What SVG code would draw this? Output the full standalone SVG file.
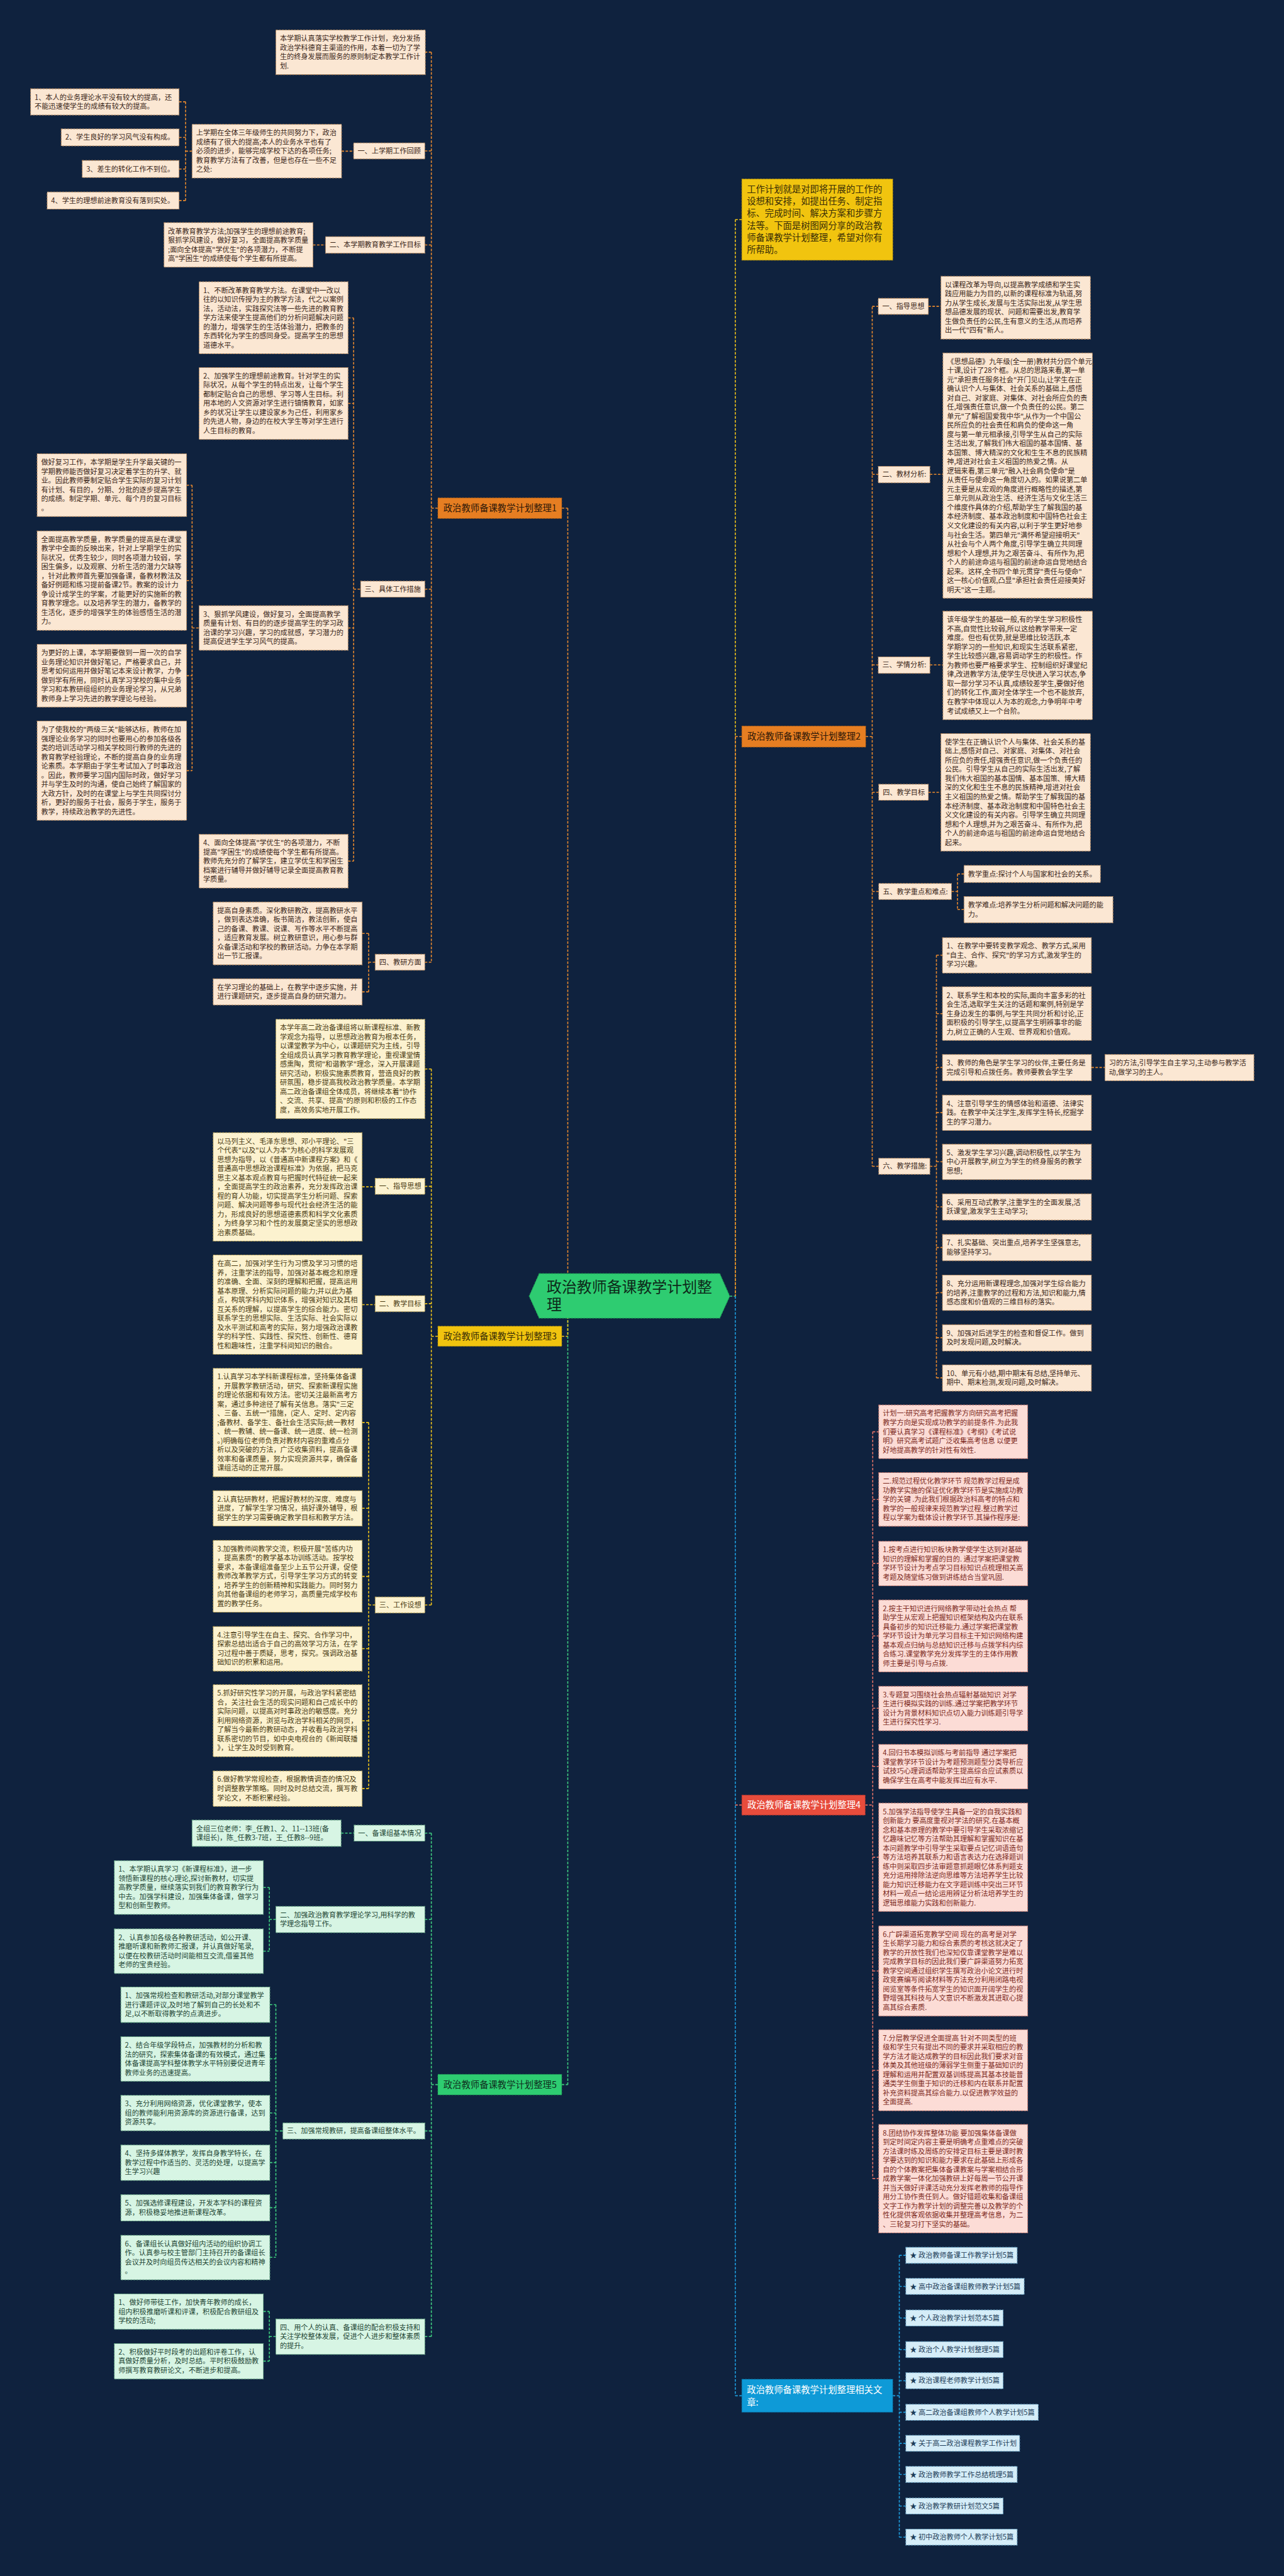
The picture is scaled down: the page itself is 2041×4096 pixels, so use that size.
<svg xmlns="http://www.w3.org/2000/svg" width="2041" height="4096" viewBox="0 0 2041 4096">
<style>
.bg{fill:#0f223e}
text{font-family:"Noto Sans CJK SC","Noto Sans",sans-serif}
.t{font-size:14px}
.r1,.r3,.r4,.r5,.r6{stroke-width:1.3;stroke-dasharray:4 2}
.r1{fill:#fbe7d3;stroke:#b98a5e}
.r3{fill:#fcf2cf;stroke:#b8a050}
.r4{fill:#fcdcd6;stroke:#c07068}
.r5{fill:#d7f5e4;stroke:#6aae88}
.r6{fill:#d5edf8;stroke:#6aa6c8}
.k1{fill:#3a2618}.k3{fill:#4a3b12}.k4{fill:#7c2a22}.k5{fill:#1e4634}.k6{fill:#1d3d58}
.c{fill:none;stroke-width:2;stroke-dasharray:5 3}
.co{stroke:#e8892e}.cy{stroke:#f0c419}.cr{stroke:#e07065}.cg{stroke:#3fcf80}.cb{stroke:#1e9fe0}
.big{font-size:18px}
</style>
<rect class="bg" x="0" y="0" width="2041" height="4096"/>
<g transform="scale(0.79727)">
<g id="connectors">
<!-- left main spine -->
<path class="c co" d="M1132 1013.5V2585M1120 1013.5H1132"/>
<path class="c cg" d="M1132 2585V4157.5M1120 4157.5H1132"/>
<path class="c cy" d="M1132 2585V2665M1120 2665H1132"/>
<!-- right main spine -->
<path class="c cy" d="M1466 438V2585M1466 438H1479"/>
<path class="c co" d="M1466 1469V2585M1466 1469H1479"/>
<path class="c cb" d="M1466 2585V4778M1466 4778H1479"/>
<path class="c cr" d="M1466 3600H1479"/>
<path class="c cg" d="M1455 2585H1466"/>
<!-- branch 1 -->
<path class="c co" d="M860 104V1919M860 1013.5H873M847 104H860M847 301H860M847 488.5H860M847 1175H860M847 1919H860"/>
<path class="c co" d="M681 301.5H705M370 203V400M357 203H370M357 274H370M357 337H370M357 400H370M370 301.5H383"/>
<path class="c co" d="M624 488.5H649"/>
<path class="c co" d="M705 634V1717.5M694 634H705M694 804.7H705M694 1252.4H705M694 1717.5H705M705 1175H719"/>
<path class="c co" d="M383 967.6V1537M372 967.6H383M372 1158H383M372 1347.6H383M372 1537H383M383 1252.4H397"/>
<path class="c co" d="M735 1861.6V1978.2M722 1861.6H735M722 1978.2H735M735 1919H748"/>
<!-- branch 3 -->
<path class="c cy" d="M860 2132V3201M860 2665H873M847 2132H860M847 2366H860M847 2600H860M847 3201H860"/>
<path class="c cy" d="M722 2367H748M722 2602H748"/>
<path class="c cy" d="M735 2837V3567M722 2837H735M722 3008H735M722 3144H735M722 3288H735M722 3432H735M722 3567H735M735 3201H748"/>
<!-- branch 5 -->
<path class="c cg" d="M860 3656V4660M860 4157.5H873M847 3656H860M847 3828H860M847 4250H860M847 4660H860"/>
<path class="c cg" d="M680 3656H706"/>
<path class="c cg" d="M537 3764.5V3891.4M525 3764.5H537M525 3891.4H537M537 3828H550"/>
<path class="c cg" d="M550 3998V4502M538 3998H550M538 4106H550M538 4214H550M538 4313H550M538 4403H550M538 4502H550M550 4250H564"/>
<path class="c cg" d="M537 4610V4709M525 4610H537M525 4709H537M537 4660H550"/>
<!-- branch 2 -->
<path class="c co" d="M1739 612V2326M1726 1469H1739M1739 611H1751M1739 946H1751M1739 1326H1751M1739 1580H1752M1739 1778H1752M1739 2326H1752"/>
<path class="c co" d="M1851 611H1876M1854 946H1880M1854 1326H1880M1851 1580H1876"/>
<path class="c co" d="M1909 1743V1814M1897 1778H1909M1909 1743H1922M1909 1814H1922"/>
<path class="c co" d="M1867 1905V2748M1854 2326H1867M1867 1905H1879M1867 2021.5H1879M1867 2129H1879M1867 2219H1879M1867 2317H1879M1867 2407H1879M1867 2488H1879M1867 2578H1879M1867 2668H1879M1867 2748H1879M2176 2129H2203"/>
<!-- branch 4 -->
<path class="c cr" d="M1740 2855.5V4345M1725 3600H1740M1740 2855.5H1752M1740 2990.5H1752M1740 3118H1752M1740 3262.7H1752M1740 3407H1752M1740 3523H1752M1740 3704H1752M1740 3931H1752M1740 4129H1752M1740 4345H1752"/>
<!-- related -->
<path class="c cb" d="M1793 4498V5060M1780 4778H1793M1793 4498H1806M1793 4560H1806M1793 4623H1806M1793 4686H1806M1793 4748H1806M1793 4811H1806M1793 4873H1806M1793 4935H1806M1793 4998H1806M1793 5060H1806"/>
</g>

<!-- center -->
<g id="center">
<polygon points="1075,2540 1435,2540 1455,2585 1435,2629 1075,2629 1055,2585" fill="#2ecc71" stroke="#1f9e55" stroke-width="1.5" stroke-dasharray="4 2"/>
<text x="1090" y="2577" font-size="30" fill="#0d2a1a"><tspan>政治教师备课教学计划整</tspan><tspan x="1090" dy="36">理</tspan></text>
</g>

<!-- ===== Branch 1 ===== -->
<g id="b1">
<rect x="873" y="993" width="247" height="41" fill="#e67e22" stroke="#b35f12" stroke-dasharray="4 2"/>
<text class="big" x="884" y="1020" fill="#2e1808">政治教师备课教学计划整理1</text>
</g>
<g id="b1-intro"><rect class="r1" x="550" y="60" width="298" height="88.8"/>
<text class="t k1" x="558" y="82"><tspan>本学期认真落实学校教学工作计划，充分发扬</tspan><tspan x="558" dy="18.2">政治学科德育主渠道的作用，本着一切为了学</tspan><tspan x="558" dy="18.2">生的终身发展而服务的原则制定本教学工作计</tspan><tspan x="558" dy="18.2">划.</tspan></text></g>
<g id="b1-1"><rect class="r1" x="705" y="285" width="142" height="32"/><text class="t k1" x="713" y="306">一、上学期工作回顾</text></g>
<g id="b1-1a"><rect class="r1" x="383" y="248" width="298" height="107"/>
<text class="t k1" x="391" y="270"><tspan>上学期在全体三年级师生的共同努力下，政治</tspan><tspan x="391" dy="18.2">成绩有了很大的提高;本人的业务水平也有了</tspan><tspan x="391" dy="18.2">必须的进步，能够完成学校下达的各项任务;</tspan><tspan x="391" dy="18.2">教育教学方法有了改善，但是也存在一些不足</tspan><tspan x="391" dy="18.2">之处:</tspan></text></g>
<g id="b1-1a1"><rect class="r1" x="61" y="177" width="296" height="52.4"/>
<text class="t k1" x="69" y="199"><tspan>1、本人的业务理论水平没有较大的提高，还</tspan><tspan x="69" dy="18.2">不能迅速使学生的成绩有较大的提高。</tspan></text></g>
<g id="b1-1a2"><rect class="r1" x="122" y="257" width="235" height="34"/><text class="t k1" x="130" y="279">2、学生良好的学习风气没有构成。</text></g>
<g id="b1-1a3"><rect class="r1" x="164" y="320" width="193" height="34"/><text class="t k1" x="172" y="342">3、差生的转化工作不到位。</text></g>
<g id="b1-1a4"><rect class="r1" x="94" y="383" width="263" height="34"/><text class="t k1" x="102" y="405">4、学生的理想前途教育没有落到实处。</text></g>
<g id="b1-2"><rect class="r1" x="649" y="472" width="198" height="33"/><text class="t k1" x="657" y="493">二、本学期教育教学工作目标</text></g>
<g id="b1-2a"><rect class="r1" x="327" y="444" width="297" height="88.8"/>
<text class="t k1" x="335" y="466"><tspan>改革教育教学方法;加强学生的理想前途教育;</tspan><tspan x="335" dy="18.2">狠抓学风建设，做好复习，全面提高教学质量</tspan><tspan x="335" dy="18.2">;面向全体提高"学优生"的各项潜力，不断提</tspan><tspan x="335" dy="18.2">高"学困生"的成绩使每个学生都有所提高。</tspan></text></g>
<g id="b1-3"><rect class="r1" x="719" y="1159" width="128" height="32"/><text class="t k1" x="727" y="1180">三、具体工作措施</text></g>
<g id="b1-3a"><rect class="r1" x="397" y="562" width="297" height="143.4"/>
<text class="t k1" x="405" y="584"><tspan>1、不断改革教育教学方法。在课堂中一改以</tspan><tspan x="405" dy="18.2">往的以知识传授为主的教学方法，代之以案例</tspan><tspan x="405" dy="18.2">法，活动法，实践探究法等一些先进的教育教</tspan><tspan x="405" dy="18.2">学方法来使学生提高他们的分析问题解决问题</tspan><tspan x="405" dy="18.2">的潜力，增强学生的生活体验潜力，把教条的</tspan><tspan x="405" dy="18.2">东西转化为学生的感同身受。提高学生的思想</tspan><tspan x="405" dy="18.2">道德水平。</tspan></text></g>
<g id="b1-3b"><rect class="r1" x="397" y="733" width="297" height="143.4"/>
<text class="t k1" x="405" y="755"><tspan>2、加强学生的理想前途教育。针对学生的实</tspan><tspan x="405" dy="18.2">际状况，从每个学生的特点出发，让每个学生</tspan><tspan x="405" dy="18.2">都制定贴合自己的思想、学习等人生目标。利</tspan><tspan x="405" dy="18.2">用本地的人文资源对学生进行镇情教育，如家</tspan><tspan x="405" dy="18.2">乡的状况让学生以建设家乡为己任，利用家乡</tspan><tspan x="405" dy="18.2">的先进人物，身边的在校大学生等对学生进行</tspan><tspan x="405" dy="18.2">人生目标的教育。</tspan></text></g>
<g id="b1-3c"><rect class="r1" x="397" y="1208" width="297" height="88.8"/>
<text class="t k1" x="405" y="1230"><tspan>3、狠抓学风建设，做好复习，全面提高教学</tspan><tspan x="405" dy="18.2">质量有计划、有目的的逐步提高学生的学习政</tspan><tspan x="405" dy="18.2">治课的学习兴趣，学习的成就感，学习潜力的</tspan><tspan x="405" dy="18.2">提高促进学生学习风气的提高。</tspan></text></g>
<g id="b1-3c1"><rect class="r1" x="74" y="905" width="298" height="125.2"/>
<text class="t k1" x="82" y="927"><tspan>做好复习工作，本学期是学生升学最关键的一</tspan><tspan x="82" dy="18.2">学期教师能否做好复习决定着学生的升学、就</tspan><tspan x="82" dy="18.2">业。因此教师要制定贴合学生实际的复习计划</tspan><tspan x="82" dy="18.2">有计划、有目的，分期、分批的逐步提高学生</tspan><tspan x="82" dy="18.2">的成绩。制定学期、单元、每个月的复习目标</tspan><tspan x="82" dy="18.2">。</tspan></text></g>
<g id="b1-3c2"><rect class="r1" x="74" y="1059" width="298" height="198"/>
<text class="t k1" x="82" y="1081"><tspan>全面提高教学质量，教学质量的提高是在课堂</tspan><tspan x="82" dy="18.2">教学中全面的反映出来，针对上学期学生的实</tspan><tspan x="82" dy="18.2">际状况，优秀生较少，同时各项潜力较弱，学</tspan><tspan x="82" dy="18.2">困生偏多，以及观察、分析生活的潜力欠缺等</tspan><tspan x="82" dy="18.2">，针对此教师首先要加强备课，备教材教法及</tspan><tspan x="82" dy="18.2">备好例题和练习提前备课2节。教案的设计力</tspan><tspan x="82" dy="18.2">争设计成学生的学案，才能更好的实施新的教</tspan><tspan x="82" dy="18.2">育教学理念。以及培养学生的潜力，备教学的</tspan><tspan x="82" dy="18.2">生活化，逐步的增强学生的体验感悟生活的潜</tspan><tspan x="82" dy="18.2">力。</tspan></text></g>
<g id="b1-3c3"><rect class="r1" x="74" y="1285" width="298" height="125.2"/>
<text class="t k1" x="82" y="1307"><tspan>为更好的上课，本学期要做到一周一次的自学</tspan><tspan x="82" dy="18.2">业务理论知识并做好笔记，严格要求自己，并</tspan><tspan x="82" dy="18.2">思考如何运用并做好笔记本来设计教学，力争</tspan><tspan x="82" dy="18.2">做到学有所用，同时认真学习学校的集中业务</tspan><tspan x="82" dy="18.2">学习和本教研组组织的业务理论学习，从兄弟</tspan><tspan x="82" dy="18.2">教师身上学习先进的教学理论与经验。</tspan></text></g>
<g id="b1-3c4"><rect class="r1" x="74" y="1438" width="298" height="198"/>
<text class="t k1" x="82" y="1460"><tspan>为了使我校的"两级三关"能够达标，教师在加</tspan><tspan x="82" dy="18.2">强理论业务学习的同时也要用心的参加各级各</tspan><tspan x="82" dy="18.2">类的培训活动学习相关学校同行教师的先进的</tspan><tspan x="82" dy="18.2">教育教学经验理论，不断的提高自身的业务理</tspan><tspan x="82" dy="18.2">论素质。本学期由于学生考试加入了时事政治</tspan><tspan x="82" dy="18.2">。因此，教师要学习国内国际时政，做好学习</tspan><tspan x="82" dy="18.2">并与学生及时的沟通，使自己始终了解国家的</tspan><tspan x="82" dy="18.2">大政方针，及时的在课堂上与学生共同探讨分</tspan><tspan x="82" dy="18.2">析，更好的服务于社会，服务于学生，服务于</tspan><tspan x="82" dy="18.2">教学，持续政治教学的先进性。</tspan></text></g>
<g id="b1-3d"><rect class="r1" x="397" y="1664" width="297" height="107"/>
<text class="t k1" x="405" y="1686"><tspan>4、面向全体提高"学优生"的各项潜力，不断</tspan><tspan x="405" dy="18.2">提高"学困生"的成绩使每个学生都有所提高。</tspan><tspan x="405" dy="18.2">教师先充分的了解学生，建立学优生和学困生</tspan><tspan x="405" dy="18.2">档案进行辅导并做好辅导记录全面提高教育教</tspan><tspan x="405" dy="18.2">学质量。</tspan></text></g>
<g id="b1-4"><rect class="r1" x="748" y="1903" width="99" height="32"/><text class="t k1" x="756" y="1924">四、教研方面</text></g>
<g id="b1-4a"><rect class="r1" x="425" y="1799" width="297" height="125.2"/>
<text class="t k1" x="433" y="1821"><tspan>提高自身素质。深化教研教改，提高教研水平</tspan><tspan x="433" dy="18.2">，做到表达准确，板书简洁，教法创新，使自</tspan><tspan x="433" dy="18.2">己的备课、教课、说课、写作等水平不断提高</tspan><tspan x="433" dy="18.2">，适应教育发展。树立教研意识，用心参与群</tspan><tspan x="433" dy="18.2">众备课活动和学校的教研活动。力争在本学期</tspan><tspan x="433" dy="18.2">出一节汇报课。</tspan></text></g>
<g id="b1-4b"><rect class="r1" x="425" y="1952" width="297" height="52.4"/>
<text class="t k1" x="433" y="1974"><tspan>在学习理论的基础上，在教学中逐步实施，并</tspan><tspan x="433" dy="18.2">进行课题研究，逐步提高自身的研究潜力。</tspan></text></g>

<!-- ===== Branch 3 ===== -->
<g id="b3">
<rect x="873" y="2645" width="247" height="40" fill="#f1c40f" stroke="#b8930a" stroke-dasharray="4 2"/>
<text class="big" x="884" y="2671" fill="#3a2e06">政治教师备课教学计划整理3</text>
</g>
<g id="b3-intro"><rect class="r3" x="550" y="2033" width="297" height="198"/>
<text class="t k3" x="558" y="2055"><tspan>本学年高二政治备课组将以新课程标准、新教</tspan><tspan x="558" dy="18.2">学观念为指导，以思想政治教育为根本任务，</tspan><tspan x="558" dy="18.2">以课堂教学为中心，以课题研究为主线，引导</tspan><tspan x="558" dy="18.2">全组成员认真学习教育教学理论，重视课堂情</tspan><tspan x="558" dy="18.2">感熏陶，贯彻"和谐教学"理念，深入开展课题</tspan><tspan x="558" dy="18.2">研究活动，积极实施素质教育，营造良好的教</tspan><tspan x="558" dy="18.2">研氛围，稳步提高我校政治教学质量。本学期</tspan><tspan x="558" dy="18.2">高二政治备课组全体成员，将继续本着"协作</tspan><tspan x="558" dy="18.2">、交流、共享、提高"的原则和积极的工作态</tspan><tspan x="558" dy="18.2">度，高效务实地开展工作。</tspan></text></g>
<g id="b3-1"><rect class="r3" x="748" y="2350" width="99" height="32"/><text class="t k3" x="756" y="2371">一、指导思想</text></g>
<g id="b3-1a"><rect class="r3" x="425" y="2259" width="297" height="216.2"/>
<text class="t k3" x="433" y="2281"><tspan>以马列主义、毛泽东思想、邓小平理论、"三</tspan><tspan x="433" dy="18.2">个代表"以及"以人为本"为核心的科学发展观</tspan><tspan x="433" dy="18.2">思想为指导，以《普通高中新课程方案》和《</tspan><tspan x="433" dy="18.2">普通高中思想政治课程标准》为依据，把马克</tspan><tspan x="433" dy="18.2">思主义基本观点教育与把握时代特征统一起来</tspan><tspan x="433" dy="18.2">，全面提高学生的政治素养，充分发挥政治课</tspan><tspan x="433" dy="18.2">程的育人功能，切实提高学生分析问题、探索</tspan><tspan x="433" dy="18.2">问题、解决问题等参与现代社会经济生活的能</tspan><tspan x="433" dy="18.2">力，形成良好的思想道德素质和科学文化素质</tspan><tspan x="433" dy="18.2">，为终身学习和个性的发展奠定坚实的思想政</tspan><tspan x="433" dy="18.2">治素质基础。</tspan></text></g>
<g id="b3-2"><rect class="r3" x="748" y="2584" width="99" height="32"/><text class="t k3" x="756" y="2605">二、教学目标</text></g>
<g id="b3-2a"><rect class="r3" x="425" y="2503" width="297" height="198"/>
<text class="t k3" x="433" y="2525"><tspan>在高二，加强对学生行为习惯及学习习惯的培</tspan><tspan x="433" dy="18.2">养，注重学法的指导，加强对基本概念和原理</tspan><tspan x="433" dy="18.2">的准确、全面、深刻的理解和把握，提高运用</tspan><tspan x="433" dy="18.2">基本原理、分析实际问题的能力;并以此为基</tspan><tspan x="433" dy="18.2">点，构筑学科内知识体系，增强对知识及其相</tspan><tspan x="433" dy="18.2">互关系的理解，以提高学生的综合能力。密切</tspan><tspan x="433" dy="18.2">联系学生的思想实际、生活实际、社会实际以</tspan><tspan x="433" dy="18.2">及水平测试和高考的实际，努力增强政治课教</tspan><tspan x="433" dy="18.2">学的科学性、实践性、探究性、创新性、德育</tspan><tspan x="433" dy="18.2">性和趣味性，注重学科间知识的融合。</tspan></text></g>
<g id="b3-3"><rect class="r3" x="748" y="3185" width="99" height="32"/><text class="t k3" x="756" y="3206">三、工作设想</text></g>
<g id="b3-3a"><rect class="r3" x="425" y="2729" width="297" height="216.2"/>
<text class="t k3" x="433" y="2751"><tspan>1.认真学习本学科新课程标准，坚持集体备课</tspan><tspan x="433" dy="18.2">，开展教学教研活动，研究、探索新课程实施</tspan><tspan x="433" dy="18.2">的理论依据和有效方法。密切关注最新高考方</tspan><tspan x="433" dy="18.2">案，通过多种途径了解有关信息。落实"三定</tspan><tspan x="433" dy="18.2">、三备、五统一"措施，(定人、定时、定内容</tspan><tspan x="433" dy="18.2">;备教材、备学生、备社会生活实际;统一教材</tspan><tspan x="433" dy="18.2">、统一教辅、统一备课、统一进度、统一检测</tspan><tspan x="433" dy="18.2">。)明确每位老师负责对教材内容的重难点分</tspan><tspan x="433" dy="18.2">析以及突破的方法，广泛收集资料，提高备课</tspan><tspan x="433" dy="18.2">效率和备课质量，努力实现资源共享，确保备</tspan><tspan x="433" dy="18.2">课组活动的正常开展。</tspan></text></g>
<g id="b3-3b"><rect class="r3" x="425" y="2973" width="297" height="70.6"/>
<text class="t k3" x="433" y="2995"><tspan>2.认真钻研教材，把握好教材的深度、难度与</tspan><tspan x="433" dy="18.2">进度，了解学生学习情况，搞好课外辅导，根</tspan><tspan x="433" dy="18.2">据学生的学习需要确定教学目标和教学方法。</tspan></text></g>
<g id="b3-3c"><rect class="r3" x="425" y="3072" width="297" height="143.4"/>
<text class="t k3" x="433" y="3094"><tspan>3.加强教师间教学交流，积极开展"苦练内功</tspan><tspan x="433" dy="18.2">，提高素质"的教学基本功训练活动。按学校</tspan><tspan x="433" dy="18.2">要求，本备课组准备至少上五节公开课，促使</tspan><tspan x="433" dy="18.2">教师改革教学方式，引导学生学习方式的转变</tspan><tspan x="433" dy="18.2">，培养学生的创新精神和实践能力。同时努力</tspan><tspan x="433" dy="18.2">向其他备课组的老师学习，高质量完成学校布</tspan><tspan x="433" dy="18.2">置的教学任务。</tspan></text></g>
<g id="b3-3d"><rect class="r3" x="425" y="3244" width="297" height="88.8"/>
<text class="t k3" x="433" y="3266"><tspan>4.注意引导学生在自主、探究、合作学习中，</tspan><tspan x="433" dy="18.2">探索总结出适合于自己的高效学习方法，在学</tspan><tspan x="433" dy="18.2">习过程中善于质疑，思考，探究。强调政治基</tspan><tspan x="433" dy="18.2">础知识的积累和运用。</tspan></text></g>
<g id="b3-3e"><rect class="r3" x="425" y="3360" width="297" height="143.4"/>
<text class="t k3" x="433" y="3382"><tspan>5.抓好研究性学习的开展，与政治学科紧密结</tspan><tspan x="433" dy="18.2">合，关注社会生活的现实问题和自己成长中的</tspan><tspan x="433" dy="18.2">实际问题，以提高对时事政治的敏感度。充分</tspan><tspan x="433" dy="18.2">利用网络资源，浏览与政治学科相关的网页，</tspan><tspan x="433" dy="18.2">了解当今最新的教研动态，并收看与政治学科</tspan><tspan x="433" dy="18.2">联系密切的节目，如中央电视台的《新闻联播</tspan><tspan x="433" dy="18.2">》，让学生及时受到教育。</tspan></text></g>
<g id="b3-3f"><rect class="r3" x="425" y="3532" width="297" height="70.6"/>
<text class="t k3" x="433" y="3554"><tspan>6.做好教学常规检查，根据教情调查的情况及</tspan><tspan x="433" dy="18.2">时调整教学策略。同时及时总结交流，撰写教</tspan><tspan x="433" dy="18.2">学论文，不断积累经验。</tspan></text></g>

<!-- ===== Branch 5 ===== -->
<g id="b5">
<rect x="873" y="4137" width="247" height="41" fill="#2ecc71" stroke="#1f9e55" stroke-dasharray="4 2"/>
<text class="big" x="884" y="4164" fill="#0f3020">政治教师备课教学计划整理5</text>
</g>
<g id="b5-1"><rect class="r5" x="706" y="3640" width="141" height="32"/><text class="t k5" x="714" y="3661">一、备课组基本情况</text></g>
<g id="b5-1a"><rect class="r5" x="383" y="3630" width="297" height="52.4"/>
<text class="t k5" x="391" y="3652"><tspan>全组三位老师：李_任教1、2、11--13班(备</tspan><tspan x="391" dy="18.2">课组长)，陈_任教3-7班，王_任教8--9班。</tspan></text></g>
<g id="b5-2"><rect class="r5" x="550" y="3802" width="297" height="52.4"/>
<text class="t k5" x="558" y="3824"><tspan>二、加强政治教育教学理论学习,用科学的教</tspan><tspan x="558" dy="18.2">学理念指导工作。</tspan></text></g>
<g id="b5-2a"><rect class="r5" x="228" y="3711" width="297" height="107"/>
<text class="t k5" x="236" y="3733"><tspan>1、本学期认真学习《新课程标准》，进一步</tspan><tspan x="236" dy="18.2">领悟新课程的核心理论,探讨新教材，切实提</tspan><tspan x="236" dy="18.2">高教学质量，继续落实到我们的教育教学行为</tspan><tspan x="236" dy="18.2">中去。加强学科建设，加强集体备课，做学习</tspan><tspan x="236" dy="18.2">型和创新型教师。</tspan></text></g>
<g id="b5-2b"><rect class="r5" x="228" y="3847" width="297" height="88.8"/>
<text class="t k5" x="236" y="3869"><tspan>2、认真参加各级各种教研活动，如公开课、</tspan><tspan x="236" dy="18.2">推磨听课和新教师汇报课，并认真做好笔录,</tspan><tspan x="236" dy="18.2">以便在校教研活动时间能相互交流,借鉴其他</tspan><tspan x="236" dy="18.2">老师的宝贵经验。</tspan></text></g>
<g id="b5-3"><rect class="r5" x="564" y="4234" width="283" height="32"/><text class="t k5" x="572" y="4255">三、加强常规教研，提高备课组整体水平。</text></g>
<g id="b5-3a"><rect class="r5" x="241" y="3963" width="297" height="70.6"/>
<text class="t k5" x="249" y="3985"><tspan>1、加强常规检查和教研活动,对部分课堂教学</tspan><tspan x="249" dy="18.2">进行课题评议,及时地了解到自己的长处和不</tspan><tspan x="249" dy="18.2">足,以不断取得教学的点滴进步。</tspan></text></g>
<g id="b5-3b"><rect class="r5" x="241" y="4062" width="297" height="88.8"/>
<text class="t k5" x="249" y="4084"><tspan>2、结合年级学段特点，加强教材的分析和教</tspan><tspan x="249" dy="18.2">法的研究，探索集体备课的有效模式，通过集</tspan><tspan x="249" dy="18.2">体备课提高学科整体教学水平特别要促进青年</tspan><tspan x="249" dy="18.2">教师业务的迅速提高。</tspan></text></g>
<g id="b5-3c"><rect class="r5" x="241" y="4179" width="297" height="70.6"/>
<text class="t k5" x="249" y="4201"><tspan>3、充分利用网络资源，优化课堂教学，使本</tspan><tspan x="249" dy="18.2">组的教师能利用资源库的资源进行备课，达到</tspan><tspan x="249" dy="18.2">资源共享。</tspan></text></g>
<g id="b5-3d"><rect class="r5" x="241" y="4278" width="297" height="70.6"/>
<text class="t k5" x="249" y="4300"><tspan>4、坚持多媒体教学，发挥自身教学特长，在</tspan><tspan x="249" dy="18.2">教学过程中作适当的、灵活的处理，以提高学</tspan><tspan x="249" dy="18.2">生学习兴趣</tspan></text></g>
<g id="b5-3e"><rect class="r5" x="241" y="4377" width="297" height="52.4"/>
<text class="t k5" x="249" y="4399"><tspan>5、加强选修课程建设，开发本学科的课程资</tspan><tspan x="249" dy="18.2">源，积极稳妥地推进新课程改革。</tspan></text></g>
<g id="b5-3f"><rect class="r5" x="241" y="4458" width="297" height="88.8"/>
<text class="t k5" x="249" y="4480"><tspan>6、备课组长认真做好组内活动的组织协调工</tspan><tspan x="249" dy="18.2">作。认真参与校主管部门主持召开的备课组长</tspan><tspan x="249" dy="18.2">会议并及时向组员传达相关的会议内容和精神</tspan><tspan x="249" dy="18.2">。</tspan></text></g>
<g id="b5-4"><rect class="r5" x="550" y="4625" width="297" height="70.6"/>
<text class="t k5" x="558" y="4647"><tspan>四、用个人的认真、备课组的配合积极支持和</tspan><tspan x="558" dy="18.2">关注学校整体发展，促进个人进步和整体素质</tspan><tspan x="558" dy="18.2">的提升。</tspan></text></g>
<g id="b5-4a"><rect class="r5" x="228" y="4575" width="297" height="70.6"/>
<text class="t k5" x="236" y="4597"><tspan>1、做好师带徒工作，加快青年教师的成长，</tspan><tspan x="236" dy="18.2">组内积极推磨听课和评课，积极配合教研组及</tspan><tspan x="236" dy="18.2">学校的活动;</tspan></text></g>
<g id="b5-4b"><rect class="r5" x="228" y="4674" width="297" height="70.6"/>
<text class="t k5" x="236" y="4696"><tspan>2、积极做好平时段考的出题和评卷工作，认</tspan><tspan x="236" dy="18.2">真做好质量分析，及时总结。平时积极鼓励教</tspan><tspan x="236" dy="18.2">师撰写教育教研论文，不断进步和提高。</tspan></text></g>

<!-- ===== Right: intro ===== -->
<g id="intro"><rect x="1479" y="357" width="301" height="162" fill="#f1c40f" stroke="#b8930a" stroke-dasharray="4 2"/>
<text class="big" x="1489" y="384" fill="#3a2e06"><tspan>工作计划就是对即将开展的工作的</tspan><tspan x="1489" dy="24">设想和安排，如提出任务、制定指</tspan><tspan x="1489" dy="24">标、完成时间、解决方案和步骤方</tspan><tspan x="1489" dy="24">法等。下面是树图网分享的政治教</tspan><tspan x="1489" dy="24">师备课教学计划整理，希望对你有</tspan><tspan x="1489" dy="24">所帮助。</tspan></text></g>

<!-- ===== Branch 2 ===== -->
<g id="b2">
<rect x="1479" y="1448" width="247" height="42" fill="#e67e22" stroke="#b35f12" stroke-dasharray="4 2"/>
<text class="big" x="1490" y="1475" fill="#2e1808">政治教师备课教学计划整理2</text>
</g>
<g id="b2-1"><rect class="r1" x="1751" y="595" width="100" height="32"/><text class="t k1" x="1759" y="616">一、指导思想</text></g>
<g id="b2-1a"><rect class="r1" x="1876" y="551" width="298" height="125.2"/>
<text class="t k1" x="1884" y="573"><tspan>以课程改革为导向,以提高教学成绩和学生实</tspan><tspan x="1884" dy="18.2">践应用能力为目的,以新的课程标准为轨道,努</tspan><tspan x="1884" dy="18.2">力从学生成长,发展与生活实际出发,从学生思</tspan><tspan x="1884" dy="18.2">想品德发展的现状、问题和需要出发,教育学</tspan><tspan x="1884" dy="18.2">生做负责任的公民,生有意义的生活,从而培养</tspan><tspan x="1884" dy="18.2">出一代"四有"新人。</tspan></text></g>
<g id="b2-2"><rect class="r1" x="1751" y="930" width="103" height="33"/><text class="t k1" x="1759" y="951">二、教材分析:</text></g>
<g id="b2-2a"><rect class="r1" x="1880" y="704" width="298" height="489"/>
<text class="t k1" x="1888" y="726"><tspan>《思想品德》九年级(全一册)教材共分四个单元,</tspan><tspan x="1888" dy="18.2">十课,设计了28个框。从总的思路来看,第一单</tspan><tspan x="1888" dy="18.2">元"承担责任服务社会"开门见山,让学生在正</tspan><tspan x="1888" dy="18.2">确认识个人与集体、社会关系的基础上,感悟</tspan><tspan x="1888" dy="18.2">对自己、对家庭、对集体、对社会所应负的责</tspan><tspan x="1888" dy="18.2">任,增强责任意识,做一个负责任的公民。第二</tspan><tspan x="1888" dy="18.2">单元"了解祖国爱我中华",从作为一个中国公</tspan><tspan x="1888" dy="18.2">民所应负的社会责任和肩负的使命这一角</tspan><tspan x="1888" dy="18.2">度与第一单元相承接,引导学生从自己的实际</tspan><tspan x="1888" dy="18.2">生活出发,了解我们伟大祖国的基本国情、基</tspan><tspan x="1888" dy="18.2">本国策、博大精深的文化和生生不息的民族精</tspan><tspan x="1888" dy="18.2">神,增进对社会主义祖国的热爱之情。从</tspan><tspan x="1888" dy="18.2">逻辑来看,第三单元"融入社会肩负使命"是</tspan><tspan x="1888" dy="18.2">从责任与使命这一角度切入的。如果说第二单</tspan><tspan x="1888" dy="18.2">元主要是从宏观的角度进行概略性的描述,第</tspan><tspan x="1888" dy="18.2">三单元则从政治生活、经济生活与文化生活三</tspan><tspan x="1888" dy="18.2">个维度作具体的介绍,帮助学生了解我国的基</tspan><tspan x="1888" dy="18.2">本经济制度、基本政治制度和中国特色社会主</tspan><tspan x="1888" dy="18.2">义文化建设的有关内容,以利于学生更好地参</tspan><tspan x="1888" dy="18.2">与社会生活。第四单元"满怀希望迎接明天"</tspan><tspan x="1888" dy="18.2">从社会与个人两个角度,引导学生确立共同理</tspan><tspan x="1888" dy="18.2">想和个人理想,并为之艰苦奋斗、有所作为,把</tspan><tspan x="1888" dy="18.2">个人的前途命运与祖国的前途命运自觉地结合</tspan><tspan x="1888" dy="18.2">起来。这样,全书四个单元贯穿"责任与使命"</tspan><tspan x="1888" dy="18.2">这一核心价值观,凸显"承担社会责任迎接美好</tspan><tspan x="1888" dy="18.2">明天"这一主题。</tspan></text></g>
<g id="b2-3"><rect class="r1" x="1751" y="1310" width="103" height="33"/><text class="t k1" x="1759" y="1331">三、学情分析:</text></g>
<g id="b2-3a"><rect class="r1" x="1880" y="1219" width="298" height="216.2"/>
<text class="t k1" x="1888" y="1241"><tspan>该年级学生的基础一般,有的学生学习积极性</tspan><tspan x="1888" dy="18.2">不高,自觉性比较弱,所以这给教学带来一定</tspan><tspan x="1888" dy="18.2">难度。但也有优势,就是思维比较活跃,本</tspan><tspan x="1888" dy="18.2">学期学习的一些知识,和现实生活联系紧密,</tspan><tspan x="1888" dy="18.2">学生比较感兴趣,容易调动学生的积极性。作</tspan><tspan x="1888" dy="18.2">为教师也要严格要求学生、控制组织好课堂纪</tspan><tspan x="1888" dy="18.2">律,改进教学方法,使学生尽快进入学习状态,争</tspan><tspan x="1888" dy="18.2">取一部分学习不认真,成绩较差学生,要做好他</tspan><tspan x="1888" dy="18.2">们的转化工作,面对全体学生一个也不能放弃,</tspan><tspan x="1888" dy="18.2">在教学中体现以人为本的观念,力争明年中考</tspan><tspan x="1888" dy="18.2">考试成绩又上一个台阶。</tspan></text></g>
<g id="b2-4"><rect class="r1" x="1752" y="1564" width="99" height="32"/><text class="t k1" x="1760" y="1585">四、教学目标</text></g>
<g id="b2-4a"><rect class="r1" x="1876" y="1463" width="298" height="234.4"/>
<text class="t k1" x="1884" y="1485"><tspan>使学生在正确认识个人与集体、社会关系的基</tspan><tspan x="1884" dy="18.2">础上,感悟对自己、对家庭、对集体、对社会</tspan><tspan x="1884" dy="18.2">所应负的责任,增强责任意识,做一个负责任的</tspan><tspan x="1884" dy="18.2">公民。引导学生从自己的实际生活出发,了解</tspan><tspan x="1884" dy="18.2">我们伟大祖国的基本国情、基本国策、博大精</tspan><tspan x="1884" dy="18.2">深的文化和生生不息的民族精神,增进对社会</tspan><tspan x="1884" dy="18.2">主义祖国的热爱之情。帮助学生了解我国的基</tspan><tspan x="1884" dy="18.2">本经济制度、基本政治制度和中国特色社会主</tspan><tspan x="1884" dy="18.2">义文化建设的有关内容。引导学生确立共同理</tspan><tspan x="1884" dy="18.2">想和个人理想,并为之艰苦奋斗、有所作为,把</tspan><tspan x="1884" dy="18.2">个人的前途命运与祖国的前途命运自觉地结合</tspan><tspan x="1884" dy="18.2">起来。</tspan></text></g>
<g id="b2-5"><rect class="r1" x="1752" y="1762" width="145" height="32"/><text class="t k1" x="1760" y="1783">五、教学重点和难点:</text></g>
<g id="b2-5a"><rect class="r1" x="1922" y="1726" width="272" height="34"/><text class="t k1" x="1930" y="1748">教学重点:探讨个人与国家和社会的关系。</text></g>
<g id="b2-5b"><rect class="r1" x="1922" y="1788" width="297" height="52.4"/>
<text class="t k1" x="1930" y="1810"><tspan>教学难点:培养学生分析问题和解决问题的能</tspan><tspan x="1930" dy="18.2">力。</tspan></text></g>
<g id="b2-6"><rect class="r1" x="1752" y="2310" width="102" height="32"/><text class="t k1" x="1760" y="2331">六、教学措施:</text></g>
<g id="b2-6-1"><rect class="r1" x="1879" y="1870" width="297" height="70.6"/>
<text class="t k1" x="1887" y="1892"><tspan>1、在教学中要转变教学观念、教学方式,采用</tspan><tspan x="1887" dy="18.2">"自主、合作、探究"的学习方式,激发学生的</tspan><tspan x="1887" dy="18.2">学习兴趣。</tspan></text></g>
<g id="b2-6-2"><rect class="r1" x="1879" y="1968" width="297" height="107"/>
<text class="t k1" x="1887" y="1990"><tspan>2、联系学生和本校的实际,面向丰富多彩的社</tspan><tspan x="1887" dy="18.2">会生活,选取学生关注的话题和案例,特别是学</tspan><tspan x="1887" dy="18.2">生身边发生的事例,与学生共同分析和讨论,正</tspan><tspan x="1887" dy="18.2">面积极的引导学生,以提高学生明辨事非的能</tspan><tspan x="1887" dy="18.2">力,树立正确的人生观、世界观和价值观。</tspan></text></g>
<g id="b2-6-3"><rect class="r1" x="1879" y="2103" width="297" height="52.4"/>
<text class="t k1" x="1887" y="2125"><tspan>3、教师的角色是学生学习的伙伴,主要任务是</tspan><tspan x="1887" dy="18.2">完成引导和点拨任务。教师要教会学生学</tspan></text></g>
<g id="b2-6-3a"><rect class="r1" x="2203" y="2103" width="297" height="52.4"/>
<text class="t k1" x="2211" y="2125"><tspan>习的方法,引导学生自主学习,主动参与教学活</tspan><tspan x="2211" dy="18.2">动,做学习的主人。</tspan></text></g>
<g id="b2-6-4"><rect class="r1" x="1879" y="2184" width="297" height="70.6"/>
<text class="t k1" x="1887" y="2206"><tspan>4、注意引导学生的情感体验和道德、法律实</tspan><tspan x="1887" dy="18.2">践。在教学中关注学生,发挥学生特长,挖掘学</tspan><tspan x="1887" dy="18.2">生的学习潜力。</tspan></text></g>
<g id="b2-6-5"><rect class="r1" x="1879" y="2282" width="297" height="70.6"/>
<text class="t k1" x="1887" y="2304"><tspan>5、激发学生学习兴趣,调动积极性,以学生为</tspan><tspan x="1887" dy="18.2">中心开展教学,树立为学生的终身服务的教学</tspan><tspan x="1887" dy="18.2">思想;</tspan></text></g>
<g id="b2-6-6"><rect class="r1" x="1879" y="2381" width="297" height="52.4"/>
<text class="t k1" x="1887" y="2403"><tspan>6、采用互动式教学,注重学生的全面发展,活</tspan><tspan x="1887" dy="18.2">跃课堂,激发学生主动学习;</tspan></text></g>
<g id="b2-6-7"><rect class="r1" x="1879" y="2462" width="297" height="52.4"/>
<text class="t k1" x="1887" y="2484"><tspan>7、扎实基础、突出重点,培养学生坚强意志,</tspan><tspan x="1887" dy="18.2">能够坚持学习。</tspan></text></g>
<g id="b2-6-8"><rect class="r1" x="1879" y="2543" width="297" height="70.6"/>
<text class="t k1" x="1887" y="2565"><tspan>8、充分运用新课程理念,加强对学生综合能力</tspan><tspan x="1887" dy="18.2">的培养,注重教学的过程和方法,知识和能力,情</tspan><tspan x="1887" dy="18.2">感态度和价值观的三维目标的落实。</tspan></text></g>
<g id="b2-6-9"><rect class="r1" x="1879" y="2642" width="297" height="52.4"/>
<text class="t k1" x="1887" y="2664"><tspan>9、加强对后进学生的检查和督促工作。做到</tspan><tspan x="1887" dy="18.2">及时发现问题,及时解决。</tspan></text></g>
<g id="b2-6-10"><rect class="r1" x="1879" y="2722" width="297" height="52.4"/>
<text class="t k1" x="1887" y="2744"><tspan>10、单元有小结,期中期末有总结,坚持单元、</tspan><tspan x="1887" dy="18.2">期中、期末检测,发现问题,及时解决。</tspan></text></g>

<!-- ===== Branch 4 ===== -->
<g id="b4">
<rect x="1479" y="3580" width="246" height="40" fill="#e74c3c" stroke="#b0302a" stroke-dasharray="4 2"/>
<text class="big" x="1490" y="3606" fill="#ffffff">政治教师备课教学计划整理4</text>
</g>
<g id="b4-a"><rect class="r4" x="1752" y="2802" width="297" height="107"/>
<text class="t k4" x="1760" y="2824"><tspan>计划一:研究高考把握教学方向研究高考把握</tspan><tspan x="1760" dy="18.2">教学方向是实现成功教学的前提条件.为此我</tspan><tspan x="1760" dy="18.2">们要认真学习《课程标准》《考纲》《考试说</tspan><tspan x="1760" dy="18.2">明》研究高考试题广泛收集高考信息 以便更</tspan><tspan x="1760" dy="18.2">好地提高教学的针对性有效性.</tspan></text></g>
<g id="b4-b"><rect class="r4" x="1752" y="2937" width="297" height="107"/>
<text class="t k4" x="1760" y="2959"><tspan>二.规范过程优化教学环节 规范教学过程是成</tspan><tspan x="1760" dy="18.2">功教学实施的保证优化教学环节是实施成功教</tspan><tspan x="1760" dy="18.2">学的关键 .为此我们根据政治科高考的特点和</tspan><tspan x="1760" dy="18.2">教学的一般规律来规范教学过程.整过教学过</tspan><tspan x="1760" dy="18.2">程以学案为载体设计教学环节.其操作程序是:</tspan></text></g>
<g id="b4-1"><rect class="r4" x="1752" y="3074" width="297" height="88.8"/>
<text class="t k4" x="1760" y="3096"><tspan>1.按考点进行知识板块教学使学生达到对基础</tspan><tspan x="1760" dy="18.2">知识的理解和掌握的目的. 通过学案把课堂教</tspan><tspan x="1760" dy="18.2">学环节设计为考点学习目标知识点梳理相关高</tspan><tspan x="1760" dy="18.2">考题及随堂练习做到讲练结合当堂巩固.</tspan></text></g>
<g id="b4-2"><rect class="r4" x="1752" y="3191" width="297" height="143.4"/>
<text class="t k4" x="1760" y="3213"><tspan>2.按主干知识进行网络教学带动社会热点 帮</tspan><tspan x="1760" dy="18.2">助学生从宏观上把握知识框架结构及内在联系</tspan><tspan x="1760" dy="18.2">具备初步的知识迁移能力.通过学案把课堂教</tspan><tspan x="1760" dy="18.2">学环节设计为单元学习目标主干知识网络构建</tspan><tspan x="1760" dy="18.2">基本观点归纳与总结知识迁移与点拨学科内综</tspan><tspan x="1760" dy="18.2">合练习.课堂教学充分发挥学生的主体作用教</tspan><tspan x="1760" dy="18.2">师主要是引导与点拨.</tspan></text></g>
<g id="b4-3"><rect class="r4" x="1752" y="3363" width="297" height="88.8"/>
<text class="t k4" x="1760" y="3385"><tspan>3.专题复习围绕社会热点辐射基础知识 对学</tspan><tspan x="1760" dy="18.2">生进行模拟实践的训练.通过学案把教学环节</tspan><tspan x="1760" dy="18.2">设计为背景材料知识点切入能力训练题引导学</tspan><tspan x="1760" dy="18.2">生进行探究性学习.</tspan></text></g>
<g id="b4-4"><rect class="r4" x="1752" y="3479" width="297" height="88.8"/>
<text class="t k4" x="1760" y="3501"><tspan>4.回归书本模拟训练与考前指导 通过学案把</tspan><tspan x="1760" dy="18.2">课堂教学环节设计为考题预测题型分类导析应</tspan><tspan x="1760" dy="18.2">试技巧心理调适帮助学生提高综合应试素质以</tspan><tspan x="1760" dy="18.2">确保学生在高考中能发挥出应有水平.</tspan></text></g>
<g id="b4-5"><rect class="r4" x="1752" y="3596" width="297" height="216.2"/>
<text class="t k4" x="1760" y="3618"><tspan>5.加强学法指导使学生具备一定的自我实践和</tspan><tspan x="1760" dy="18.2">创新能力 要高度重视对学法的研究.在基本概</tspan><tspan x="1760" dy="18.2">念和基本原理的教学中要引导学生采取浓缩记</tspan><tspan x="1760" dy="18.2">忆趣味记忆等方法帮助其理解和掌握知识在基</tspan><tspan x="1760" dy="18.2">本问题教学中引导学生采取要点记忆词语造句</tspan><tspan x="1760" dy="18.2">等方法培养其联系力和语言表达力在选择题训</tspan><tspan x="1760" dy="18.2">练中则采取四步法审题意抓题眼忆体系判题支</tspan><tspan x="1760" dy="18.2">充分运用排除法逆向思维等方法培养学生比较</tspan><tspan x="1760" dy="18.2">能力知识迁移能力在文字题训练中突出三环节</tspan><tspan x="1760" dy="18.2">材料一观点一结论运用辨证分析法培养学生的</tspan><tspan x="1760" dy="18.2">逻辑思维能力实践和创新能力.</tspan></text></g>
<g id="b4-6"><rect class="r4" x="1752" y="3841" width="297" height="179.8"/>
<text class="t k4" x="1760" y="3863"><tspan>6.广辟渠道拓宽教学空间 现在的高考是对学</tspan><tspan x="1760" dy="18.2">生长期学习能力和综合素质的考核这就决定了</tspan><tspan x="1760" dy="18.2">教学的开放性我们也深知仅靠课堂教学是难以</tspan><tspan x="1760" dy="18.2">完成教学目标的因此我们要广辟渠道努力拓宽</tspan><tspan x="1760" dy="18.2">教学空间通过组织学生撰写政治小论文进行时</tspan><tspan x="1760" dy="18.2">政竞赛编写阅读材料等方法充分利用闭路电视</tspan><tspan x="1760" dy="18.2">阅览室等条件拓宽学生的知识面开阔学生的视</tspan><tspan x="1760" dy="18.2">野增强其科技与人文意识不断激发其进取心提</tspan><tspan x="1760" dy="18.2">高其综合素质.</tspan></text></g>
<g id="b4-7"><rect class="r4" x="1752" y="4048" width="297" height="161.6"/>
<text class="t k4" x="1760" y="4070"><tspan>7.分层教学促进全面提高 针对不同类型的班</tspan><tspan x="1760" dy="18.2">级和学生只有提出不同的要求并采取相应的教</tspan><tspan x="1760" dy="18.2">学方法才能达成教学的目标因此我们要求对音</tspan><tspan x="1760" dy="18.2">体美及其他班级的薄弱学生侧重于基础知识的</tspan><tspan x="1760" dy="18.2">理解和运用并配置双基训练提高其基本技能普</tspan><tspan x="1760" dy="18.2">通类学生侧重于知识的迁移和内在联系并配置</tspan><tspan x="1760" dy="18.2">补充资料提高其综合能力.以促进教学效益的</tspan><tspan x="1760" dy="18.2">全面提高.</tspan></text></g>
<g id="b4-8"><rect class="r4" x="1752" y="4237" width="297" height="216.2"/>
<text class="t k4" x="1760" y="4259"><tspan>8.团结协作发挥整体功能 要加强集体备课做</tspan><tspan x="1760" dy="18.2">到定时间定内容主要是明确考点重难点的突破</tspan><tspan x="1760" dy="18.2">方法课时练及周练的安排定目标主要是课时教</tspan><tspan x="1760" dy="18.2">学要达到的知识和能力要求在此基础上形成各</tspan><tspan x="1760" dy="18.2">自的个体教案把集体备课教案与学案相结合形</tspan><tspan x="1760" dy="18.2">成教学案一体化加强教研上好每周一节公开课</tspan><tspan x="1760" dy="18.2">并当天做好评课活动充分发挥老教师的指导作</tspan><tspan x="1760" dy="18.2">用分工协作责任到人。做好错题收集和备课组</tspan><tspan x="1760" dy="18.2">文字工作为教学计划的调整完善以及教学的个</tspan><tspan x="1760" dy="18.2">性化提供客观依据收集并整理高考信息，为二</tspan><tspan x="1760" dy="18.2">、三轮复习打下坚实的基础。</tspan></text></g>

<!-- ===== Related ===== -->
<g id="related">
<rect x="1479" y="4745" width="301" height="66" fill="#0e9ad7" stroke="#0a6fa0" stroke-dasharray="4 2"/>
<text class="big" x="1489" y="4773" fill="#ffffff"><tspan>政治教师备课教学计划整理相关文</tspan><tspan x="1489" dy="24">章:</tspan></text>
</g>
<g id="rel-1"><rect class="r6" x="1806" y="4482" width="222" height="32"/><text class="t k6" x="1814" y="4503">★ 政治教师备课工作教学计划5篇</text></g>
<g id="rel-2"><rect class="r6" x="1806" y="4544" width="236" height="32"/><text class="t k6" x="1814" y="4565">★ 高中政治备课组教师教学计划5篇</text></g>
<g id="rel-3"><rect class="r6" x="1806" y="4607" width="194" height="32"/><text class="t k6" x="1814" y="4628">★ 个人政治教学计划范本5篇</text></g>
<g id="rel-4"><rect class="r6" x="1806" y="4670" width="194" height="32"/><text class="t k6" x="1814" y="4691">★ 政治个人教学计划整理5篇</text></g>
<g id="rel-5"><rect class="r6" x="1806" y="4732" width="194" height="32"/><text class="t k6" x="1814" y="4753">★ 政治课程老师教学计划5篇</text></g>
<g id="rel-6"><rect class="r6" x="1806" y="4795" width="264" height="32"/><text class="t k6" x="1814" y="4816">★ 高二政治备课组教师个人教学计划5篇</text></g>
<g id="rel-7"><rect class="r6" x="1806" y="4857" width="227" height="32"/><text class="t k6" x="1814" y="4878">★ 关于高二政治课程教学工作计划</text></g>
<g id="rel-8"><rect class="r6" x="1806" y="4919" width="222" height="32"/><text class="t k6" x="1814" y="4940">★ 政治教师教学工作总结梳理5篇</text></g>
<g id="rel-9"><rect class="r6" x="1806" y="4982" width="194" height="32"/><text class="t k6" x="1814" y="5003">★ 政治教学教研计划范文5篇</text></g>
<g id="rel-10"><rect class="r6" x="1806" y="5044" width="222" height="32"/><text class="t k6" x="1814" y="5065">★ 初中政治教师个人教学计划5篇</text></g>
</g>
</svg>
